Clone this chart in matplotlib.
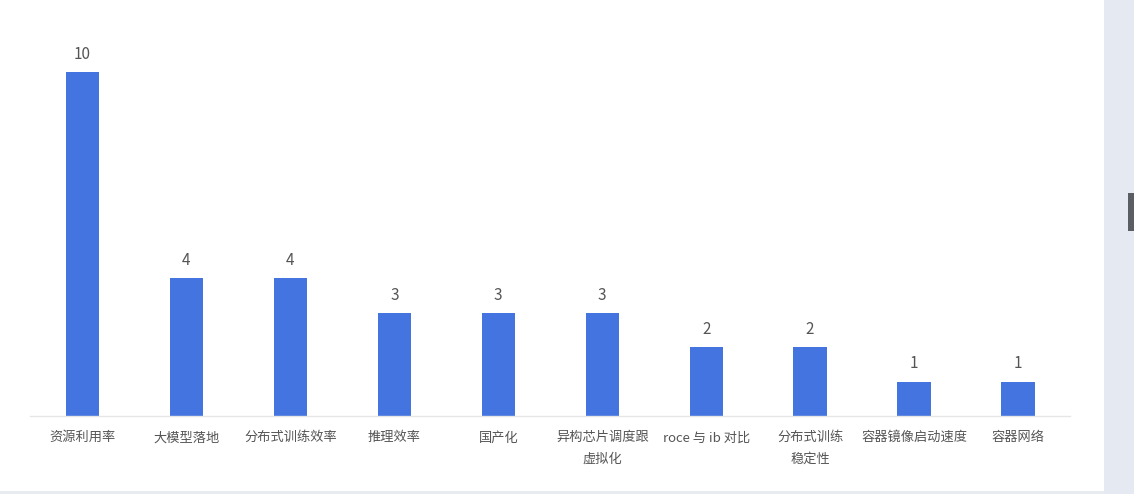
import numpy as np
import matplotlib.pyplot as plt
from matplotlib.patches import Rectangle

plt.rcParams['font.family'] = ['Noto Sans CJK SC', 'DejaVu Sans']

# categories and counts
categories = ['资源利用率', '大模型落地', '分布式训练效率', '推理效率', '国产化',
              '异构芯片调度跟\n虚拟化', 'roce 与 ib 对比', '分布式训练\n稳定性',
              '容器镜像启动速度', '容器网络']
counts = [10, 4, 4, 3, 3, 3, 2, 2, 1, 1]

W, H = 1134, 494
fig = plt.figure(figsize=(W / 100, H / 100), dpi=100)
fig.patch.set_facecolor('white')

# axes: x from 30.5 to 1070 px, baseline at y=416
left, right = 30.5, 1070
bottom, top = 416, 20
ax = fig.add_axes([left / W, 1 - bottom / H, (right - left) / W, (bottom - top) / H])
ax.set_facecolor('none')

x = np.arange(len(categories))
bars = ax.bar(x, counts, width=0.32, color='#4374E0', zorder=2)
ax.set_xlim(-0.5, len(categories) - 0.5)
ax.set_ylim(0, (bottom - top) / 34.4)

for b, v in zip(bars, counts):
    ax.text(b.get_x() + b.get_width() / 2, v + 0.27, str(v), ha='center', va='bottom',
            fontsize=11, color='#555555')

ax.set_xticks(x)
ax.set_xticklabels(categories, fontsize=9.5, color='#555555', linespacing=1.8, va='top')
ax.tick_params(axis='x', length=0, pad=11)
ax.set_yticks([])
for s in ['top', 'right', 'left']:
    ax.spines[s].set_visible(False)
ax.spines['bottom'].set_color('#e6e6e6')
ax.spines['bottom'].set_linewidth(1)

# page chrome: scrollbar strip and bottom border
fig.patches.append(Rectangle((1104 / W, 0), 30 / W, 1, transform=fig.transFigure,
                             facecolor='#e4e9f2', edgecolor='none', zorder=0))
fig.patches.append(Rectangle((1128 / W, 1 - 231 / H), 6 / W, 38 / H, transform=fig.transFigure,
                             facecolor='#5a5d63', edgecolor='none', zorder=1))
fig.patches.append(Rectangle((0, 0), 1104 / W, 3 / H, transform=fig.transFigure,
                             facecolor='#e8ebf0', edgecolor='none', zorder=1))

fig.savefig('out.png', dpi=100)
